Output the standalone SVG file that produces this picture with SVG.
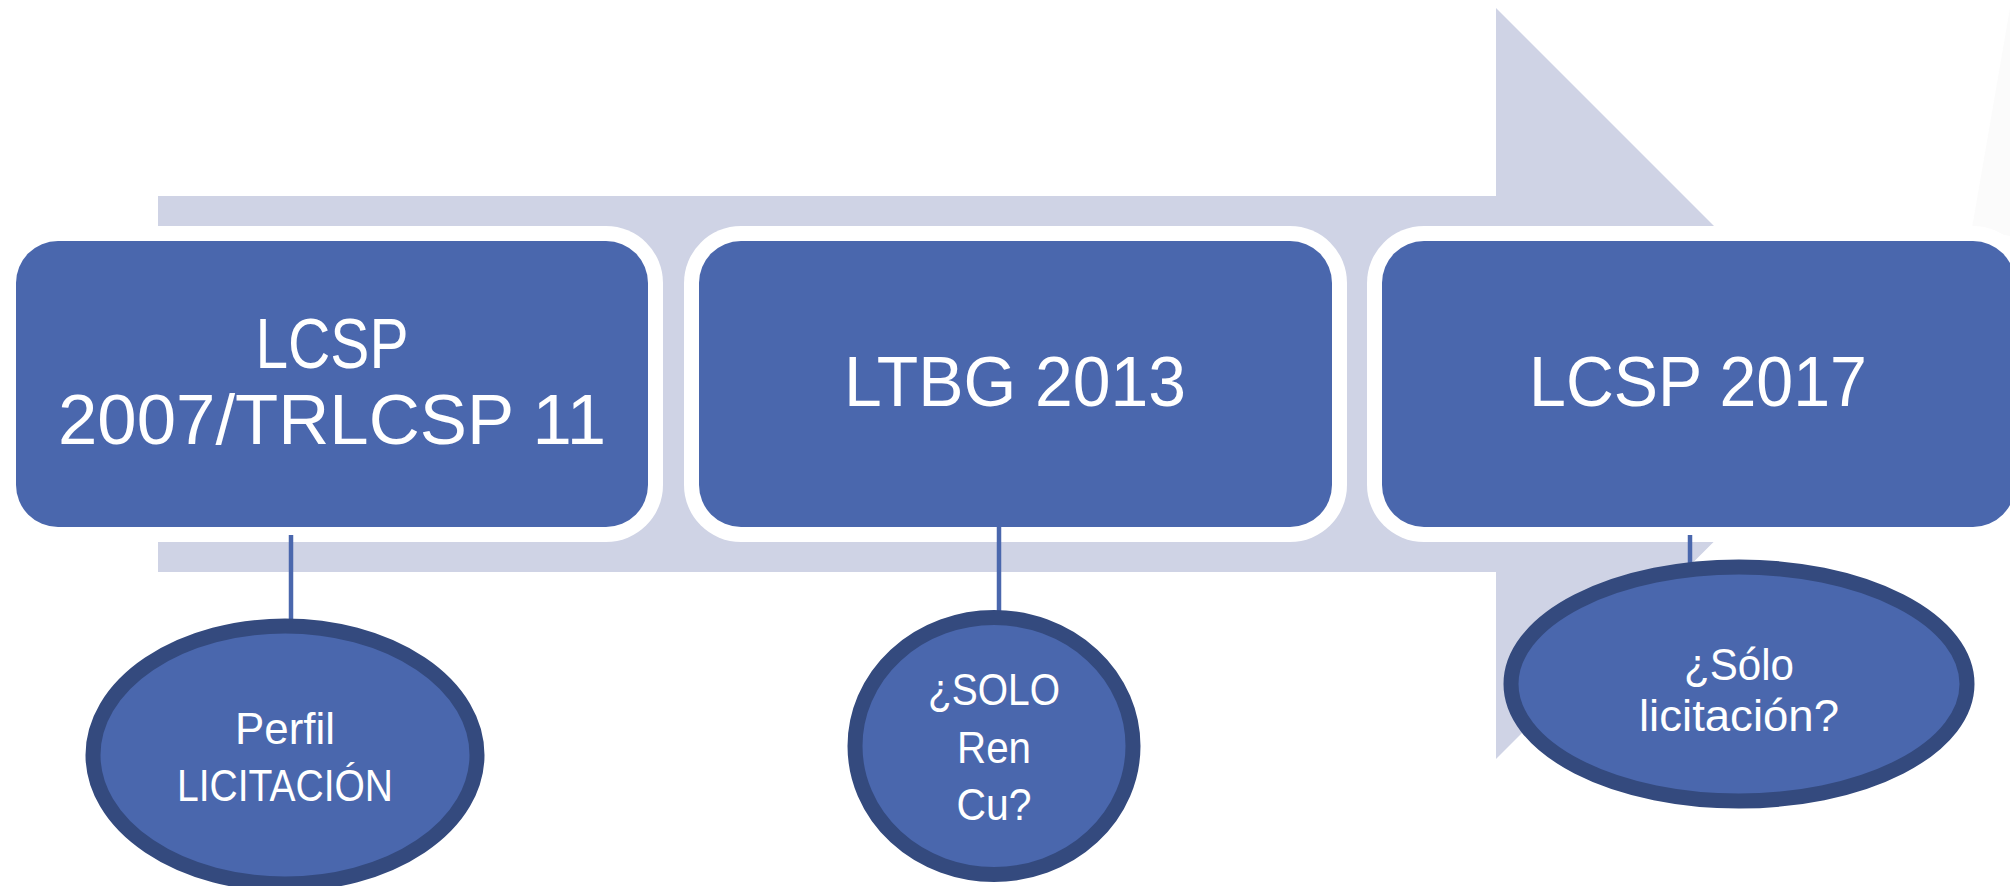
<svg xmlns="http://www.w3.org/2000/svg" width="2010" height="886" viewBox="0 0 2010 886">
  <style>
    .ring { fill: #ffffff; }
    .box { fill: #4A67AD; }
    .oval { fill: #4A67AD; stroke: #344A7E; stroke-width: 15; }
    .conn { stroke: #4A67AD; stroke-width: 4.5; fill: none; }
    .t1 { font-family: "Liberation Sans", Arial, sans-serif; font-size: 71px; fill: #ffffff; text-anchor: middle; }
    .t2 { font-family: "Liberation Sans", Arial, sans-serif; font-size: 44px; fill: #ffffff; text-anchor: middle; }
  </style>
  <rect x="0" y="0" width="2010" height="886" fill="#ffffff"/>
  <polygon points="2010,8 1972,228 2010,236" fill="#fbfbfb"/>
  <g id="arrow">
    <polygon points="158,196 1496,196 1496,8 1872,384 1496,759 1496,572 158,572" fill="#CFD3E5"/>
  </g>
  <g id="box1">
    <rect class="ring" x="1" y="226" width="662" height="316" rx="57"/>
    <rect class="box" x="16" y="241" width="632" height="286" rx="42"/>
    <text class="t1" x="332" y="368" textLength="153" lengthAdjust="spacingAndGlyphs">LCSP</text>
    <text class="t1" x="332" y="444" textLength="548" lengthAdjust="spacingAndGlyphs">2007/TRLCSP 11</text>
  </g>
  <g id="box2">
    <rect class="ring" x="684" y="226" width="663" height="316" rx="57"/>
    <rect class="box" x="699" y="241" width="633" height="286" rx="42"/>
    <text class="t1" x="1015" y="406" textLength="342" lengthAdjust="spacingAndGlyphs">LTBG 2013</text>
  </g>
  <g id="box3">
    <rect class="ring" x="1367" y="226" width="663" height="316" rx="57"/>
    <rect class="box" x="1382" y="241" width="633" height="286" rx="42"/>
    <text class="t1" x="1698" y="406" textLength="338" lengthAdjust="spacingAndGlyphs">LCSP 2017</text>
  </g>
  <g id="connectors">
    <line class="conn" x1="291" y1="535" x2="291" y2="620"/>
    <line class="conn" x1="999" y1="527" x2="999" y2="612"/>
    <line class="conn" x1="1690" y1="535" x2="1690" y2="566"/>
  </g>
  <g id="oval1">
    <ellipse class="oval" cx="285" cy="755" rx="192" ry="129"/>
    <text class="t2" x="285" y="744" textLength="100" lengthAdjust="spacingAndGlyphs">Perfil</text>
    <text class="t2" x="285" y="801" textLength="216" lengthAdjust="spacingAndGlyphs">LICITACIÓN</text>
  </g>
  <g id="oval2">
    <ellipse class="oval" cx="994" cy="746" rx="139" ry="128.5"/>
    <text class="t2" x="994" y="705" textLength="132" lengthAdjust="spacingAndGlyphs">¿SOLO</text>
    <text class="t2" x="994" y="763" textLength="74" lengthAdjust="spacingAndGlyphs">Ren</text>
    <text class="t2" x="994" y="820" textLength="75" lengthAdjust="spacingAndGlyphs">Cu?</text>
  </g>
  <g id="oval3">
    <ellipse class="oval" cx="1739" cy="684" rx="228" ry="117"/>
    <text class="t2" x="1739" y="680" textLength="110" lengthAdjust="spacingAndGlyphs">¿Sólo</text>
    <text class="t2" x="1739" y="731" textLength="200" lengthAdjust="spacingAndGlyphs">licitación?</text>
  </g>
</svg>
